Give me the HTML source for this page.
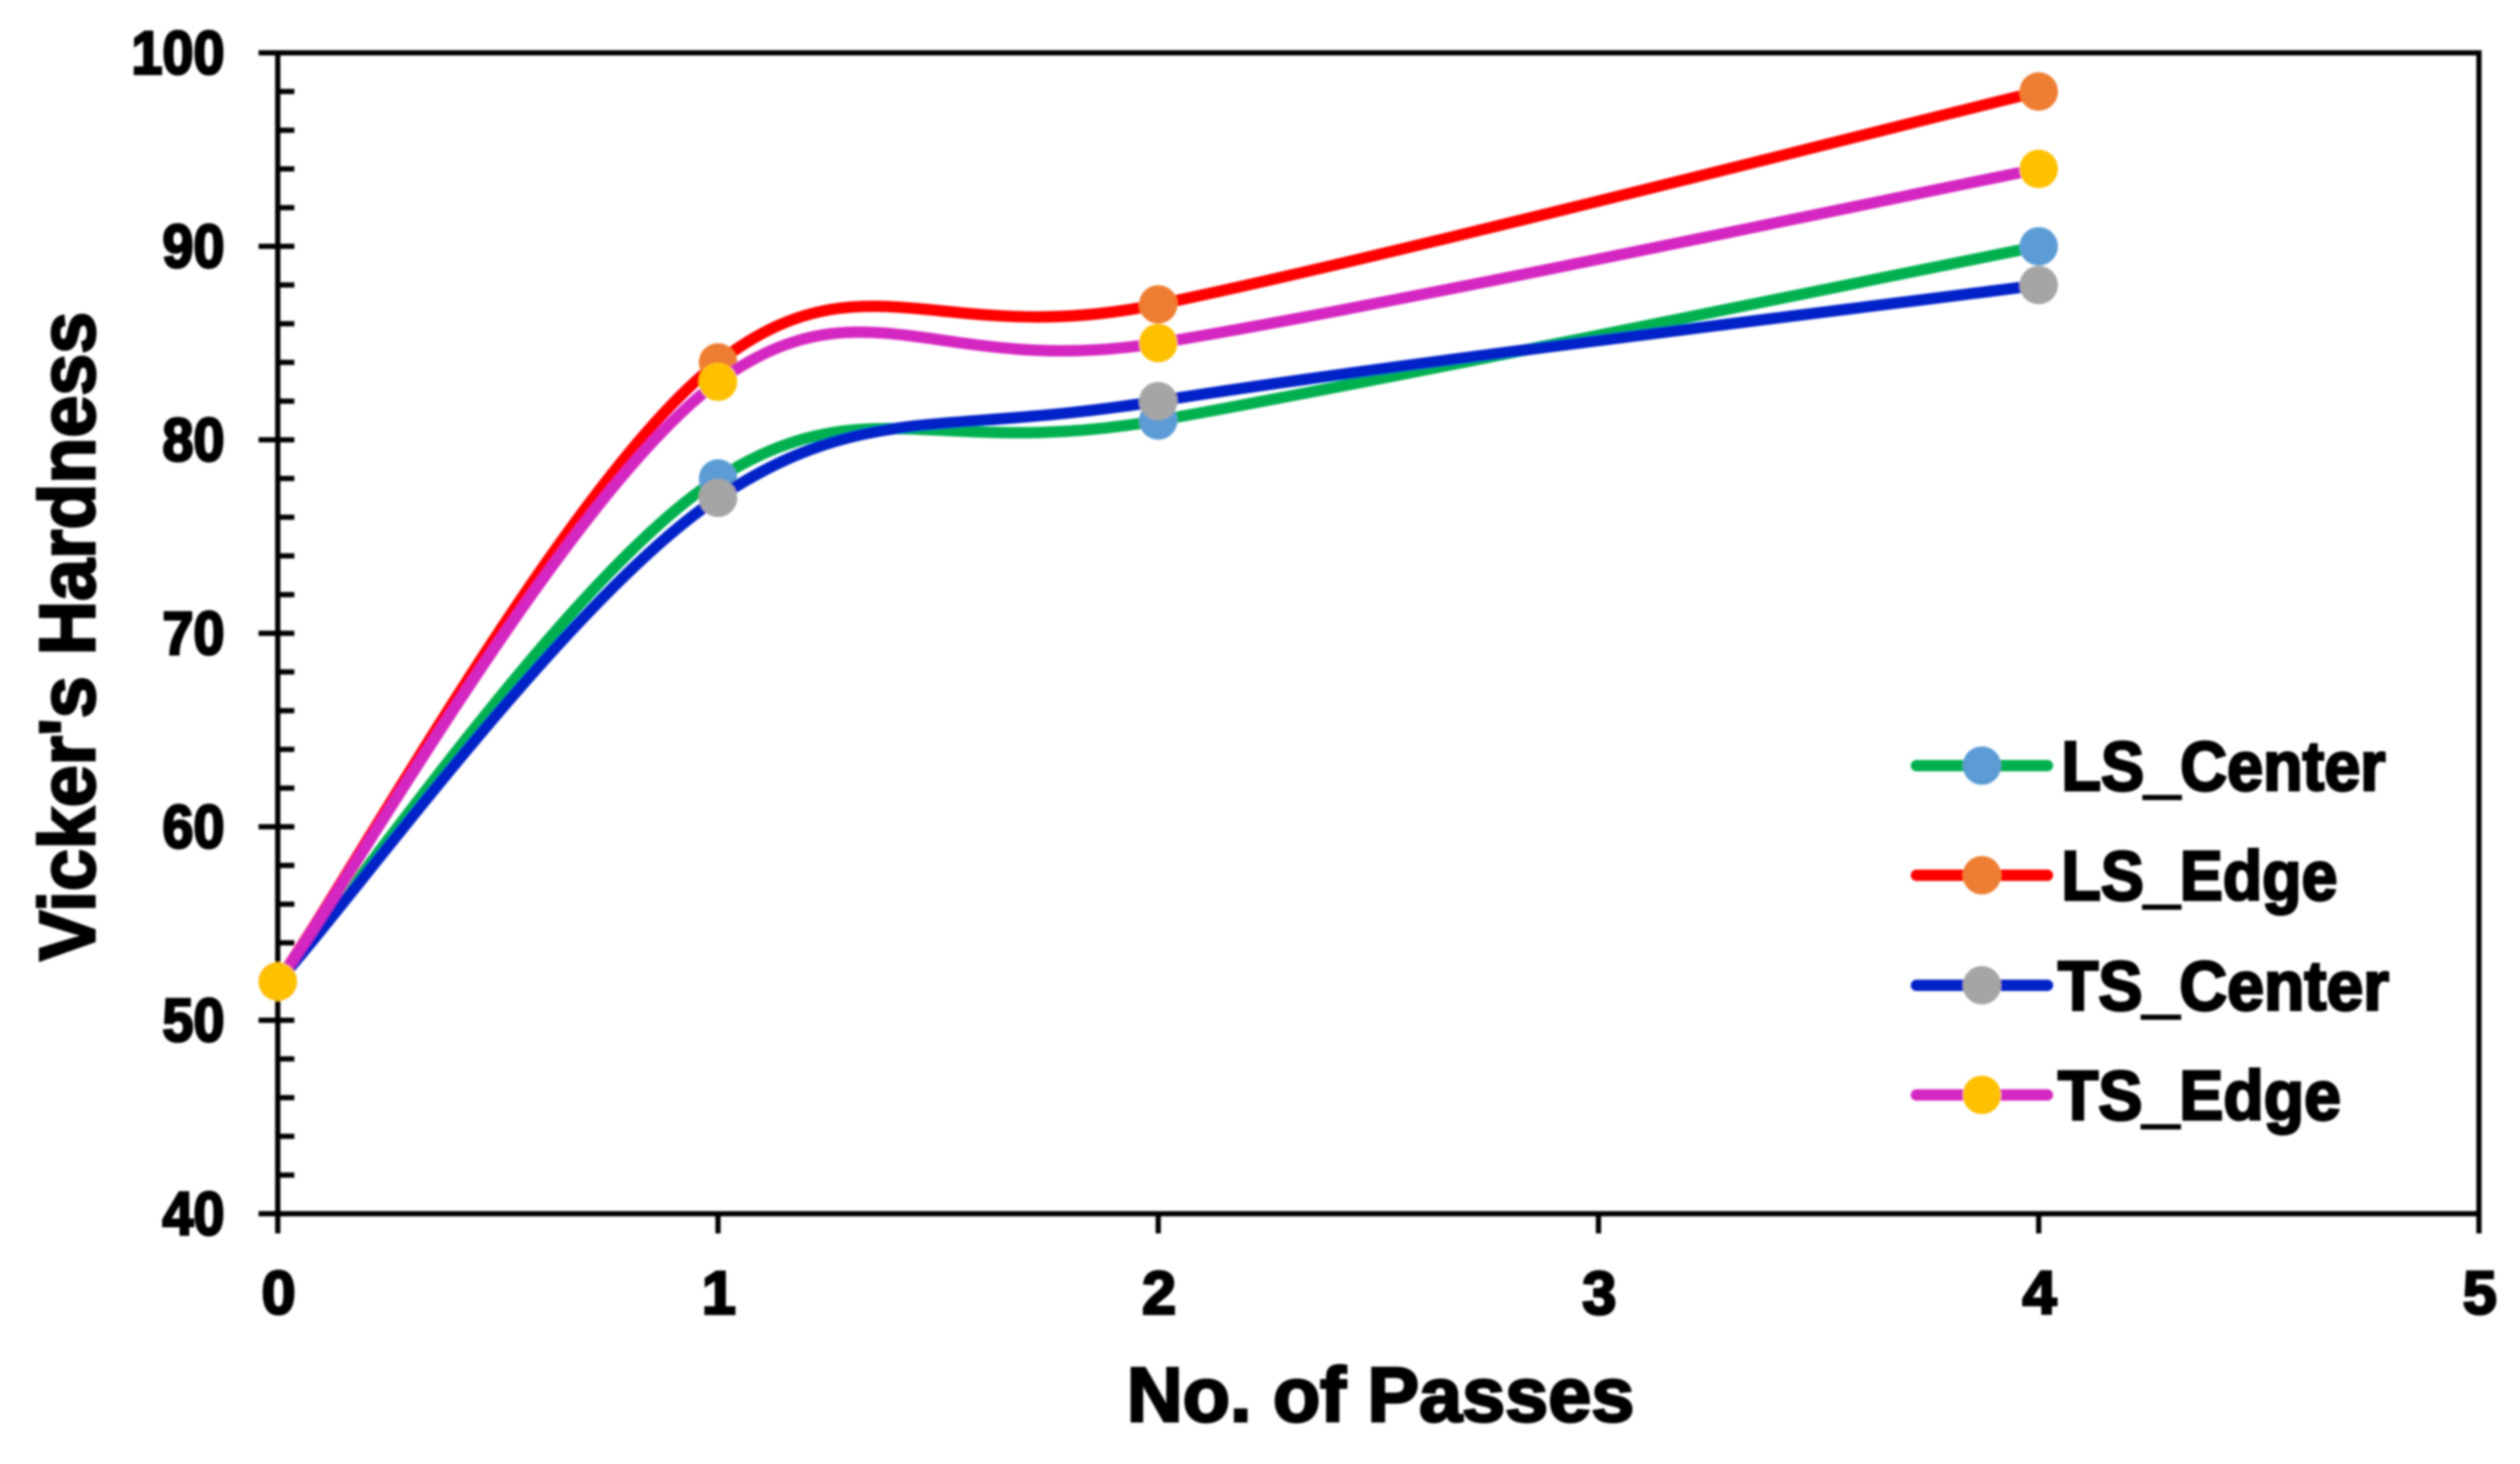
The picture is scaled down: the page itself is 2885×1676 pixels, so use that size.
<!DOCTYPE html>
<html lang="en">
<head>
<meta charset="utf-8">
<title>Vicker's Hardness vs. No. of Passes</title>
<style>
  html, body { margin: 0; padding: 0; background: #ffffff; }
  #chart { display: block; width: 2885px; height: 1676px; }
  text { font-family: "Liberation Sans", sans-serif; font-weight: 700; fill: #000; stroke: #000; }
</style>
</head>
<body>
<svg id="chart" xmlns="http://www.w3.org/2000/svg" width="2885" height="1676" viewBox="0 0 2885 1676">
  <defs>
    <filter id="soft" x="-2%" y="-2%" width="104%" height="104%">
      <feGaussianBlur stdDeviation="1.2"/>
    </filter>
  </defs>
  <g id="root" filter="url(#soft)">
    <g id="axes"></g>
    <g id="series"></g>
    <g id="legend"></g>
    <text x="1290" y="1627" font-size="88" stroke-width="3" textLength="581" lengthAdjust="spacingAndGlyphs">No. of Passes</text>
    <text transform="translate(108 1100) rotate(-90)" x="0" y="0" font-size="90" stroke-width="3" textLength="743" lengthAdjust="spacingAndGlyphs">Vicker's Hardness</text>
  </g>
</svg>
<script>
const passes = [0, 1, 2, 4];
const lsCenter = [52, 78, 81, 90];
const lsEdge = [52, 84, 87, 98];
const tsCenter = [52, 77, 82, 88];
const tsEdge = [52, 83, 85, 94];
const seriesNames = ['LS_Center', 'LS_Edge', 'TS_Center', 'TS_Edge'];
const yTickLabels = ['40', '50', '60', '70', '80', '90', '100'];
const xTickLabels = ['0', '1', '2', '3', '4', '5'];

const SVGNS = 'http://www.w3.org/2000/svg';
const PLOT = { left: 318, right: 2838, top: 60.5, bottom: 1389.5 };
const xScale = v => PLOT.left + (v - 0) / 5 * (PLOT.right - PLOT.left);
const yScale = v => PLOT.bottom - (v - 40) / 60 * (PLOT.bottom - PLOT.top);

const seriesStyles = [
  { values: lsCenter, line: '#00B050', marker: '#5B9BD5', slug: 'ls-center' },
  { values: lsEdge, line: '#FF0000', marker: '#ED7D31', slug: 'ls-edge' },
  { values: tsCenter, line: '#0020C8', marker: '#A5A5A5', slug: 'ts-center' },
  { values: tsEdge, line: '#D426C0', marker: '#FFC000', slug: 'ts-edge' }
];

function mk(tag, attrs, parent) {
  const el = document.createElementNS(SVGNS, tag);
  for (const k in attrs) el.setAttribute(k, attrs[k]);
  parent.appendChild(el);
  return el;
}

function smoothPath(xs, ys) {
  const pts = xs.map((x, i) => [xScale(x), yScale(ys[i])]);
  let d = 'M' + pts[0][0] + ' ' + pts[0][1];
  for (let i = 0; i < pts.length - 1; i++) {
    const p0 = pts[Math.max(i - 1, 0)];
    const p1 = pts[i];
    const p2 = pts[i + 1];
    const p3 = pts[Math.min(i + 2, pts.length - 1)];
    const c1x = p1[0] + (p2[0] - p0[0]) / 6;
    const c1y = p1[1] + (p2[1] - p0[1]) / 6;
    const c2x = p2[0] - (p3[0] - p1[0]) / 6;
    const c2y = p2[1] - (p3[1] - p1[1]) / 6;
    d += ' C' + c1x + ' ' + c1y + ' ' + c2x + ' ' + c2y + ' ' + p2[0] + ' ' + p2[1];
  }
  return d;
}

const axes = document.getElementById('axes');

const frame = mk('rect', { x: PLOT.left, y: PLOT.top, width: PLOT.right - PLOT.left, height: PLOT.bottom - PLOT.top, fill: 'none', stroke: '#000', 'stroke-width': 6 }, axes);



for (let v = 40; v <= 100; v += 2) {
  const isMajor = v % 10 === 0;
  const tick = mk('line', { x1: isMajor ? 296 : PLOT.left, x2: (v === 40 || v === 100) ? PLOT.left : 337, y1: yScale(v), y2: yScale(v), stroke: '#000', 'stroke-width': 6 }, axes);
  
  
}

yTickLabels.forEach(label => {
  const t = mk('text', { x: 257, y: yScale(Number(label)) + 24, 'font-size': 70, 'stroke-width': 3, 'text-anchor': 'end', textLength: label.length * 35.5, lengthAdjust: 'spacingAndGlyphs' }, axes);
  t.textContent = label;
  
  
});

xTickLabels.forEach(label => {
  const px = xScale(Number(label));
  const tick = mk('line', { x1: px, x2: px, y1: PLOT.bottom, y2: 1412, stroke: '#000', 'stroke-width': 6 }, axes);
  
  
  const t = mk('text', { x: px + 1, y: 1504, 'font-size': 70, 'stroke-width': 3, 'text-anchor': 'middle' }, axes);
  t.textContent = label;
  
  
});

const seriesRoot = document.getElementById('series');
seriesStyles.forEach(s => {
  const g = mk('g', {}, seriesRoot);
  
  
  const path = mk('path', { d: smoothPath(passes, s.values), fill: 'none', stroke: s.line, 'stroke-width': 13, 'stroke-linecap': 'round', 'stroke-linejoin': 'round' }, g);
  
  
  s.values.forEach((v, i) => {
    const c = mk('circle', { cx: xScale(passes[i]), cy: yScale(v), r: 22, fill: s.marker }, g);
    
    
  });
});

const legendRoot = document.getElementById('legend');
const legendRowY = [876.5, 1002, 1128, 1253.5];
const legendTextX = [2360, 2360, 2356, 2356];
const legendTextW = [371, 316, 379, 324];
seriesNames.forEach((name, i) => {
  const s = seriesStyles[i];
  const g = mk('g', {}, legendRoot);
  
  
  const ln = mk('line', { x1: 2194, x2: 2344, y1: legendRowY[i], y2: legendRowY[i], stroke: s.line, 'stroke-width': 13, 'stroke-linecap': 'round' }, g);
  
  
  const c = mk('circle', { cx: 2269, cy: legendRowY[i], r: 22, fill: s.marker }, g);
  
  
  const t = mk('text', { x: legendTextX[i], y: legendRowY[i] + 28, 'font-size': 80, 'stroke-width': 3, textLength: legendTextW[i], lengthAdjust: 'spacingAndGlyphs' }, g);
  t.textContent = name;
  
  
});
</script>
</body>
</html>
